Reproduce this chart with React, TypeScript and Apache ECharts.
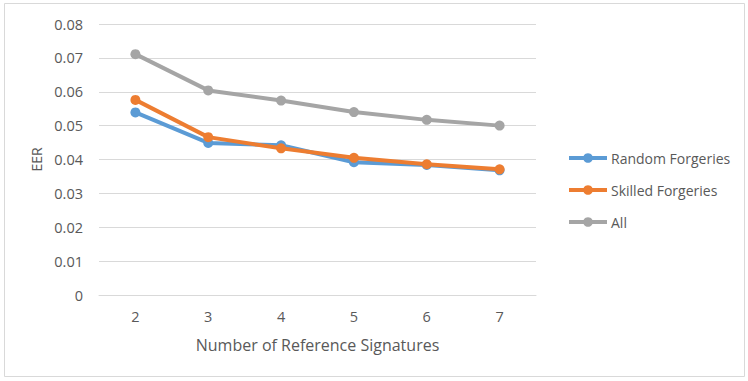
import React, { useEffect, useRef } from "react";
import * as echarts from "echarts";

const categories = ["2", "3", "4", "5", "6", "7"];
const randomForgeries = [0.0539, 0.0449, 0.0442, 0.0392, 0.0384, 0.0368];
const skilledForgeries = [0.0576, 0.0466, 0.0433, 0.0405, 0.0386, 0.0371];
const allValues = [0.0711, 0.0604, 0.0574, 0.0540, 0.0517, 0.0500];

const FONT = "'Open Sans', 'Liberation Sans', sans-serif";

export default function App() {
  const ref = useRef<HTMLDivElement>(null);
  useEffect(() => {
    if (!ref.current) return;
    const chart = echarts.init(ref.current, undefined, { renderer: "svg" });
    const mk = (name: string, data: number[], color: string, z: number) => ({
      name,
      type: "line",
      data,
      symbol: "circle",
      symbolSize: 10,
      z,
      lineStyle: { width: 4, color },
      itemStyle: { color },
    });
    chart.setOption({
      animation: false,
      backgroundColor: "#fff",
      textStyle: { fontFamily: FONT },
      graphic: [
        {
          type: "rect",
          shape: { x: 4.5, y: 3.5, width: 740, height: 373 },
          style: { fill: "none", stroke: "#d9d9d9", lineWidth: 1 },
          silent: true,
        },
      ],
      grid: { left: 99, right: 212, top: 24, bottom: 86 },
      legend: {
        orient: "vertical",
        left: 562,
        top: 146,
        itemWidth: 38,
        itemHeight: 12,
        itemGap: 18,
        itemStyle: { borderWidth: 0 },
        lineStyle: { width: 4 },
        textStyle: { fontFamily: FONT, fontSize: 14, color: "#595959", padding: [0, 0, 0, -1] },
        data: ["Random Forgeries", "Skilled Forgeries", "All"],
      },
      xAxis: {
        type: "category",
        data: categories,
        boundaryGap: true,
        name: "Number of Reference Signatures",
        nameLocation: "middle",
        nameGap: 42,
        nameTextStyle: { fontFamily: FONT, fontSize: 16, color: "#595959" },
        axisLine: { show: true, lineStyle: { color: "#d9d9d9", width: 1 } },
        axisTick: { show: false },
        axisLabel: { margin: 14, fontFamily: FONT, fontSize: 14.5, color: "#595959" },
      },
      yAxis: {
        type: "value",
        min: 0,
        max: 0.08,
        interval: 0.01,
        name: "EER",
        nameLocation: "middle",
        nameGap: 55,
        nameTextStyle: { fontFamily: FONT, fontSize: 14, color: "#595959" },
        axisLine: { show: false },
        axisTick: { show: false },
        axisLabel: {
          margin: 16,
          fontFamily: FONT,
          fontSize: 14.5,
          color: "#595959",
          formatter: (v: number) => (v === 0 ? "0" : v.toFixed(2)),
        },
        splitLine: { lineStyle: { color: "#d9d9d9", width: 1 } },
      },
      series: [
        mk("Random Forgeries", randomForgeries, "#5B9BD5", 3),
        mk("Skilled Forgeries", skilledForgeries, "#ED7D31", 4),
        mk("All", allValues, "#A5A5A5", 2),
      ],
    });
    return () => chart.dispose();
  }, []);
  return (
    <div
      ref={ref}
      style={{ position: "absolute", left: 0, top: 0, width: 748, height: 381 }}
    />
  );
}
